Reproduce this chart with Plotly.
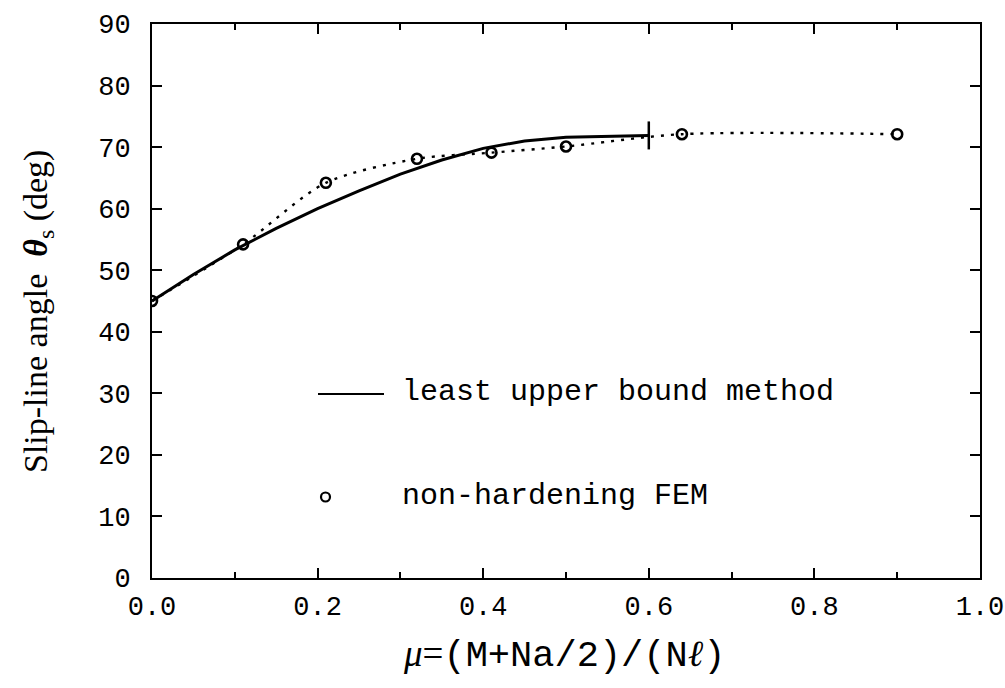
import plotly.graph_objects as go

# Least upper bound method (solid curve), theta_s vs mu
lub_mu = [0.0, 0.05, 0.10, 0.15, 0.20, 0.25, 0.30, 0.35, 0.40, 0.45, 0.50, 0.55, 0.60]
lub_theta = [45.0, 49.3, 53.3, 56.8, 60.0, 62.9, 65.6, 67.9, 69.8, 71.0, 71.6, 71.8, 71.9]

# Non-hardening FEM results (open circles joined by a dotted curve)
fem_mu = [0.0, 0.11, 0.21, 0.32, 0.41, 0.50, 0.64, 0.90]
fem_theta = [45.0, 54.2, 64.2, 68.1, 69.1, 70.1, 72.1, 72.1]

x_ticks = [0.0, 0.2, 0.4, 0.6, 0.8, 1.0]
y_ticks = [0, 10, 20, 30, 40, 50, 60, 70, 80, 90]

MONO = "Liberation Mono"
SERIF = "Liberation Serif"

fig = go.Figure()

# dotted curve through the FEM points
fig.add_trace(go.Scatter(
    x=fem_mu, y=fem_theta, mode="lines",
    line=dict(color="black", width=2.4, dash="3px,7px", shape="spline", smoothing=0.8),
    showlegend=False, hoverinfo="skip",
))

# solid curve
fig.add_trace(go.Scatter(
    x=lub_mu, y=lub_theta, mode="lines",
    line=dict(color="black", width=3),
    showlegend=False,
))

# end mark of the solid curve
fig.add_trace(go.Scatter(
    x=lub_mu[-1:], y=lub_theta[-1:], mode="markers",
    marker=dict(symbol="line-ns", size=20, line=dict(color="black", width=2.5)),
    showlegend=False, hoverinfo="skip",
))

# FEM markers
fig.add_trace(go.Scatter(
    x=fem_mu, y=fem_theta, mode="markers",
    marker=dict(symbol="circle-open", size=10, color="black", line=dict(color="black", width=2.6)),
    showlegend=False,
))

L, R, T, B = 152, 25, 24, 110
W, H = 1005, 688
pw, ph = W - L - R, H - T - B


def px_x(p):
    return (p - L) / pw


def px_y(p):
    return (H - B - p) / ph


axis_common = dict(
    showline=True, linecolor="black", linewidth=2, mirror="ticks",
    ticks="inside", tickcolor="black", tickwidth=1.5, ticklen=10,
    showgrid=False, zeroline=False, automargin=False,
    tickfont=dict(family=MONO, size=27, color="black"),
)

fig.update_xaxes(
    range=[0, 1], tickvals=x_ticks, ticktext=[f"{v:.1f}" for v in x_ticks],
    minor=dict(dtick=0.1, ticks="inside", ticklen=6, tickcolor="black", tickwidth=1.5),
    ticklabelstandoff=3,
    **axis_common,
)
fig.update_yaxes(
    range=[0, 90], tickvals=y_ticks, ticktext=[str(v) for v in y_ticks],
    ticklabelstandoff=14,
    **axis_common,
)

# legend keys and labels
fig.add_shape(type="line", xref="paper", yref="paper",
              x0=px_x(318), x1=px_x(384), y0=px_y(394), y1=px_y(394),
              line=dict(color="black", width=2))
fig.add_shape(type="circle", xref="paper", yref="paper",
              x0=px_x(321), x1=px_x(330), y0=px_y(501.5), y1=px_y(492.5),
              line=dict(color="black", width=2.2))

annotations = [
    dict(text="least upper bound method", x=px_x(400), y=px_y(392),
         xanchor="left", yanchor="middle", font=dict(family=MONO, size=30, color="black")),
    dict(text="non-hardening FEM", x=px_x(400), y=px_y(496),
         xanchor="left", yanchor="middle", font=dict(family=MONO, size=30, color="black")),
    dict(text=f'<span style="font-family:{SERIF}"><i>μ</i>=</span>(M+Na/2)/(N<span style="font-family:{SERIF}"><i>ℓ</i></span>)',
         x=px_x(564), y=px_y(655), xanchor="center", yanchor="middle",
         font=dict(family=MONO, size=37, color="black")),
    dict(text="Slip-line angle  <b><i>θ</i></b><sub>s</sub> (deg)",
         x=px_x(38), y=px_y(312), xanchor="center", yanchor="middle", textangle=-90,
         font=dict(family=SERIF, size=34, color="black")),
]
for a in annotations:
    a.update(xref="paper", yref="paper", showarrow=False)
fig.update_layout(annotations=annotations)

fig.update_layout(
    width=W, height=H,
    margin=dict(l=L, r=R, t=T, b=B, autoexpand=False),
    paper_bgcolor="white", plot_bgcolor="white",
    showlegend=False,
)

fig.write_html("out.html")
